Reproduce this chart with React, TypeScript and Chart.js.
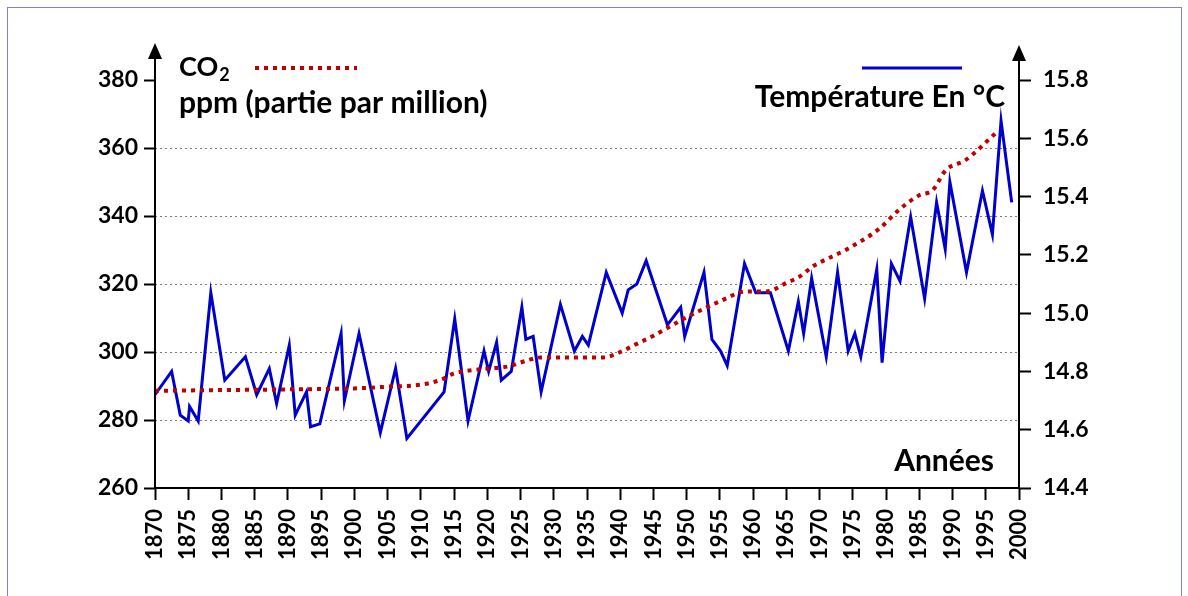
import React, { useEffect, useRef } from "react";
import { Chart, registerables } from "chart.js";

Chart.register(...registerables);

// Temperature (°C) — right axis
const tempYears = [
  1870.0, 1872.5, 1873.8, 1875.0, 1875.2, 1876.5, 1878.4, 1880.5, 1883.6, 1885.3,
  1887.2, 1888.3, 1890.2, 1891.1, 1892.8, 1893.4, 1894.8, 1898.0, 1898.5, 1900.7,
  1903.9, 1906.2, 1907.9, 1913.5, 1915.1, 1917.1, 1919.5, 1920.2, 1921.4, 1922.1,
  1923.6, 1925.2, 1925.8, 1926.9, 1928.1, 1931.0, 1933.1, 1934.3, 1935.2, 1937.9,
  1940.3, 1941.2, 1942.5, 1943.9, 1947.1, 1949.1, 1949.7, 1952.6, 1953.8, 1955.1,
  1956.1, 1958.7, 1960.4, 1962.6, 1965.3, 1966.8, 1967.6, 1968.8, 1971.0, 1972.7,
  1974.3, 1975.3, 1976.2, 1978.6, 1979.4, 1980.8, 1982.1, 1983.7, 1985.8, 1987.6,
  1988.9, 1989.6, 1992.1, 1994.5, 1996.0, 1997.3, 1998.9,
];
const tempValues = [
  14.72, 14.80, 14.65, 14.63, 14.68, 14.63, 15.07, 14.77, 14.85, 14.72,
  14.81, 14.69, 14.89, 14.65, 14.73, 14.61, 14.62, 14.93, 14.70, 14.93,
  14.59, 14.81, 14.57, 14.73, 14.98, 14.63, 14.87, 14.80, 14.90, 14.77,
  14.80, 15.02, 14.91, 14.92, 14.73, 15.03, 14.87, 14.92, 14.89, 15.14,
  15.00, 15.08, 15.10, 15.18, 14.96, 15.02, 14.92, 15.14, 14.91, 14.87,
  14.82, 15.17, 15.07, 15.07, 14.87, 15.04, 14.93, 15.12, 14.85, 15.14,
  14.87, 14.93, 14.85, 15.15, 14.83, 15.17, 15.11, 15.33, 15.05, 15.38,
  15.22, 15.45, 15.14, 15.42, 15.27, 15.66, 15.38,
];

// CO2 (ppm) — left axis
const co2Years = [
  1870, 1880, 1890, 1900, 1905, 1910, 1913, 1915, 1918, 1920, 1923, 1926, 1928,
  1933, 1937.5, 1940, 1942.5, 1945, 1950, 1955, 1959, 1962, 1965, 1967, 1969,
  1974, 1979, 1982, 1985, 1987, 1989, 1992, 1996.5,
];
const co2Values = [
  288.6, 288.8, 289.0, 289.3, 289.8, 290.4, 291.8, 293.7, 294.7, 295.1, 295.7,
  297.5, 298.4, 298.4, 298.4, 300.0, 302.4, 304.8, 310.2, 314.9, 317.8, 317.8,
  320.3, 322.2, 325.2, 330.1, 336.3, 341.9, 346.1, 347.6, 353.5, 356.5, 364.4,
];

const co2Ticks = [260, 280, 300, 320, 340, 360, 380];
const tempTicks = [14.4, 14.6, 14.8, 15.0, 15.2, 15.4, 15.6, 15.8];
const yearMin = 1870;
const yearMax = 2000;

const legendCO2 = "CO";
const legendCO2Sub = "2";
const legendPPM = "ppm (partie par million)";
const legendTemp = "Température En °C";
const xTitle = "Années";

const FONT = "Lato, 'Open Sans', sans-serif";

const decorPlugin = {
  id: "decor",
  afterDraw(chart: any) {
    const { ctx, chartArea } = chart;
    const { left, right, bottom } = chartArea;
    ctx.save();
    ctx.strokeStyle = "#000";
    ctx.fillStyle = "#000";
    ctx.lineWidth = 2;
    ctx.setLineDash([]);
    // left axis with arrow
    ctx.beginPath();
    ctx.moveTo(left, bottom + 1);
    ctx.lineTo(left, 58);
    ctx.stroke();
    ctx.beginPath();
    ctx.moveTo(left, 43);
    ctx.lineTo(left - 7, 59);
    ctx.lineTo(left + 7, 59);
    ctx.closePath();
    ctx.fill();
    // right axis with arrow
    ctx.beginPath();
    ctx.moveTo(right, bottom + 1);
    ctx.lineTo(right, 60);
    ctx.stroke();
    ctx.beginPath();
    ctx.moveTo(right, 45);
    ctx.lineTo(right - 7, 61);
    ctx.lineTo(right + 7, 61);
    ctx.closePath();
    ctx.fill();
    // bottom axis
    ctx.beginPath();
    ctx.moveTo(left - 1, bottom);
    ctx.lineTo(right + 1, bottom);
    ctx.stroke();

    // legend: CO2
    ctx.textBaseline = "middle";
    ctx.textAlign = "left";
    ctx.font = `bold 27px ${FONT}`;
    ctx.fillText(legendCO2, 179, 67);
    const w = ctx.measureText(legendCO2).width;
    ctx.font = `bold 18px ${FONT}`;
    ctx.fillText(legendCO2Sub, 179 + w + 1, 75);
    ctx.font = `bold 30px ${FONT}`;
    ctx.fillText(legendPPM, 179, 103);

    ctx.strokeStyle = "#c00000";
    ctx.lineWidth = 4;
    ctx.setLineDash([4, 5]);
    ctx.beginPath();
    ctx.moveTo(255, 68);
    ctx.lineTo(357, 68);
    ctx.stroke();

    ctx.strokeStyle = "#0000cc";
    ctx.lineWidth = 3;
    ctx.setLineDash([]);
    ctx.beginPath();
    ctx.moveTo(862, 68);
    ctx.lineTo(962, 68);
    ctx.stroke();

    ctx.textAlign = "right";
    ctx.fillText(legendTemp, 1005, 97);
    ctx.fillText(xTitle, 994, 461);
    ctx.restore();
  },
};

export default function App() {
  const ref = useRef<HTMLCanvasElement | null>(null);
  useEffect(() => {
    if (!ref.current) return;
    const tickFont = { family: FONT, size: 23, weight: "bold" as const };
    const chart = new Chart(ref.current, {
      type: "line",
      data: {
        datasets: [
          {
            label: "CO2",
            data: co2Years.map((x, i) => ({ x, y: co2Values[i] })),
            yAxisID: "y",
            borderColor: "#c00000",
            borderWidth: 4,
            borderDash: [4, 5],
            pointRadius: 0,
            cubicInterpolationMode: "monotone",
            fill: false,
          },
          {
            label: "Température",
            data: tempYears.map((x, i) => ({ x, y: tempValues[i] })),
            yAxisID: "y1",
            borderColor: "#0000cc",
            borderWidth: 3,
            pointRadius: 0,
            tension: 0,
            fill: false,
          },
        ],
      },
      plugins: [decorPlugin],
      options: {
        animation: false,
        responsive: false,
        events: [],
        layout: { padding: { top: 80, left: 0, right: 0, bottom: 0 } },
        plugins: { legend: { display: false }, tooltip: { enabled: false } },
        scales: {
          x: {
            type: "linear",
            min: yearMin,
            max: yearMax,
            afterFit: (s: any) => {
              s.height = 596 - 488;
            },
            afterBuildTicks: (s: any) => {
              const t = [];
              for (let v = yearMin; v <= yearMax; v += 5) t.push({ value: v });
              s.ticks = t;
            },
            ticks: {
              minRotation: 90,
              maxRotation: 90,
              autoSkip: false,
              padding: 9,
              color: "#000",
              font: { family: FONT, size: 22, weight: "bold" },
              callback: (v: any) => String(v),
            },
            grid: {
              drawOnChartArea: false,
              tickLength: 12,
              tickColor: "#000",
              tickWidth: 2,
            },
            border: { display: false },
          },
          y: {
            type: "linear",
            position: "left",
            min: 260,
            max: 380,
            afterFit: (s: any) => {
              s.width = 155;
            },
            afterBuildTicks: (s: any) => {
              s.ticks = co2Ticks.map((v) => ({ value: v }));
            },
            ticks: {
              padding: 6,
              color: "#000",
              font: tickFont,
              callback: (v: any) => String(v),
            },
            grid: {
              color: (c: any) =>
                c.tick && c.tick.value > 260 && c.tick.value < 380 ? "#7a7a7a" : "rgba(0,0,0,0)",
              lineWidth: 1,
              tickLength: 11,
              tickColor: "#000",
              tickWidth: 2,
              tickBorderDash: [],
            },
            border: { display: false, dash: [2, 3] },
          },
          y1: {
            type: "linear",
            position: "right",
            min: 14.4,
            max: 15.8,
            afterFit: (s: any) => {
              s.width = 1188 - 1019;
            },
            afterBuildTicks: (s: any) => {
              s.ticks = tempTicks.map((v) => ({ value: v }));
            },
            ticks: {
              padding: 12,
              color: "#000",
              font: tickFont,
              callback: (v: any) => Number(v).toFixed(1),
            },
            grid: {
              drawOnChartArea: false,
              tickLength: 12,
              tickColor: "#000",
              tickWidth: 2,
            },
            border: { display: false },
          },
        },
      },
    } as any);
    return () => chart.destroy();
  }, []);

  return (
    <div
      style={{
        position: "absolute",
        left: 0,
        top: 0,
        width: 1188,
        height: 596,
        background: "#fff",
        overflow: "hidden",
      }}
    >
      <div
        style={{
          position: "absolute",
          left: 7,
          top: 7,
          width: 1173,
          height: 620,
          border: "1px solid #8080e0",
        }}
      />
      <canvas
        ref={ref}
        width={1188}
        height={596}
        style={{ position: "absolute", left: 0, top: 0, width: 1188, height: 596 }}
      />
    </div>
  );
}
